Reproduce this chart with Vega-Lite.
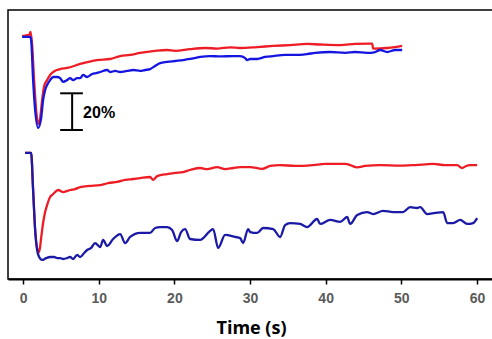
{
  "$schema": "https://vega.github.io/schema/vega-lite/v6.json",
  "width": 486,
  "height": 269,
  "autosize": {"type": "none"},
  "padding": {"left": 8, "top": 10, "right": 0, "bottom": 60},
  "background": "white",
  "config": {"view": {"stroke": "#000", "strokeWidth": 1.5}, "font": "Liberation Sans"},
  "datasets": {
    "red": [
      {"s": "top", "t": -0.13, "v": 132.4}, {"s": "top", "t": 0.79, "v": 133.0}, {"s": "top", "t": 0.99, "v": 134.6}, {"s": "top", "t": 1.19, "v": 127.5},
      {"s": "top", "t": 1.45, "v": 108.4}, {"s": "top", "t": 1.72, "v": 92.1}, {"s": "top", "t": 1.98, "v": 84.5}, {"s": "top", "t": 2.25, "v": 87.7},
      {"s": "top", "t": 2.51, "v": 97.5}, {"s": "top", "t": 2.78, "v": 105.2}, {"s": "top", "t": 3.17, "v": 108.4}, {"s": "top", "t": 3.57, "v": 111.2},
      {"s": "top", "t": 3.97, "v": 112.8}, {"s": "top", "t": 4.89, "v": 114.4}, {"s": "top", "t": 5.82, "v": 115.0}, {"s": "top", "t": 7.54, "v": 117.2},
      {"s": "top", "t": 9.79, "v": 119.3}, {"s": "top", "t": 11.5, "v": 119.9}, {"s": "top", "t": 12.83, "v": 121.5}, {"s": "top", "t": 14.15, "v": 122.1},
      {"s": "top", "t": 15.47, "v": 123.2}, {"s": "top", "t": 17.45, "v": 124.3}, {"s": "top", "t": 19.04, "v": 124.8}, {"s": "top", "t": 20.1, "v": 124.3},
      {"s": "top", "t": 22.08, "v": 125.3}, {"s": "top", "t": 24.07, "v": 125.9}, {"s": "top", "t": 25.65, "v": 125.6}, {"s": "top", "t": 27.37, "v": 126.2},
      {"s": "top", "t": 28.69, "v": 125.9}, {"s": "top", "t": 30.94, "v": 126.4}, {"s": "top", "t": 33.06, "v": 127.0}, {"s": "top", "t": 35.31, "v": 127.5},
      {"s": "top", "t": 37.55, "v": 128.1}, {"s": "top", "t": 39.27, "v": 127.8}, {"s": "top", "t": 41.92, "v": 127.5}, {"s": "top", "t": 43.9, "v": 128.1},
      {"s": "top", "t": 45.88, "v": 128.3}, {"s": "top", "t": 46.15, "v": 128.3}, {"s": "top", "t": 46.28, "v": 125.6}, {"s": "top", "t": 48.13, "v": 125.9},
      {"s": "top", "t": 49.19, "v": 126.4}, {"s": "top", "t": 50.12, "v": 127.0},
      {"s": "bottom", "t": 0.26, "v": 68.7}, {"s": "bottom", "t": 1.06, "v": 68.7}, {"s": "bottom", "t": 1.32, "v": 48.5}, {"s": "bottom", "t": 1.59, "v": 26.7},
      {"s": "bottom", "t": 1.85, "v": 16.9}, {"s": "bottom", "t": 2.12, "v": 14.7}, {"s": "bottom", "t": 2.38, "v": 22.3}, {"s": "bottom", "t": 2.64, "v": 30.5},
      {"s": "bottom", "t": 2.91, "v": 36.5}, {"s": "bottom", "t": 3.17, "v": 40.3}, {"s": "bottom", "t": 3.57, "v": 44.7}, {"s": "bottom", "t": 3.83, "v": 45.8},
      {"s": "bottom", "t": 4.23, "v": 47.4}, {"s": "bottom", "t": 4.63, "v": 48.5}, {"s": "bottom", "t": 5.29, "v": 47.4}, {"s": "bottom", "t": 5.82, "v": 48.0},
      {"s": "bottom", "t": 6.21, "v": 48.5}, {"s": "bottom", "t": 6.88, "v": 49.0}, {"s": "bottom", "t": 7.54, "v": 50.1}, {"s": "bottom", "t": 8.86, "v": 50.7},
      {"s": "bottom", "t": 10.18, "v": 51.2}, {"s": "bottom", "t": 11.24, "v": 52.3}, {"s": "bottom", "t": 12.43, "v": 52.9}, {"s": "bottom", "t": 13.49, "v": 54.0},
      {"s": "bottom", "t": 14.55, "v": 54.5}, {"s": "bottom", "t": 15.47, "v": 55.0}, {"s": "bottom", "t": 16.79, "v": 55.6}, {"s": "bottom", "t": 17.19, "v": 54.0},
      {"s": "bottom", "t": 17.72, "v": 56.1}, {"s": "bottom", "t": 19.04, "v": 57.2}, {"s": "bottom", "t": 20.1, "v": 57.8}, {"s": "bottom", "t": 21.16, "v": 58.3},
      {"s": "bottom", "t": 22.08, "v": 59.4}, {"s": "bottom", "t": 23.4, "v": 60.5}, {"s": "bottom", "t": 24.33, "v": 59.9}, {"s": "bottom", "t": 25.65, "v": 61.0},
      {"s": "bottom", "t": 26.71, "v": 59.9}, {"s": "bottom", "t": 27.77, "v": 60.5}, {"s": "bottom", "t": 28.69, "v": 61.0}, {"s": "bottom", "t": 30.02, "v": 61.0},
      {"s": "bottom", "t": 31.6, "v": 60.0}, {"s": "bottom", "t": 32.66, "v": 61.6}, {"s": "bottom", "t": 33.98, "v": 62.1}, {"s": "bottom", "t": 35.97, "v": 61.6},
      {"s": "bottom", "t": 38.35, "v": 62.1}, {"s": "bottom", "t": 39.93, "v": 62.7}, {"s": "bottom", "t": 42.58, "v": 62.7}, {"s": "bottom", "t": 43.24, "v": 62.1},
      {"s": "bottom", "t": 44.17, "v": 60.8}, {"s": "bottom", "t": 45.22, "v": 61.6}, {"s": "bottom", "t": 47.21, "v": 62.1}, {"s": "bottom", "t": 49.85, "v": 61.8},
      {"s": "bottom", "t": 51.83, "v": 62.1}, {"s": "bottom", "t": 54.21, "v": 62.7}, {"s": "bottom", "t": 55.8, "v": 62.1}, {"s": "bottom", "t": 57.39, "v": 62.1},
      {"s": "bottom", "t": 58.05, "v": 60.5}, {"s": "bottom", "t": 58.58, "v": 61.6}, {"s": "bottom", "t": 59.11, "v": 62.1}, {"s": "bottom", "t": 60.03, "v": 62.1}
    ],
    "blue": [
      {"s": "top", "t": -0.13, "v": 131.9}, {"s": "top", "t": 0.93, "v": 131.9}, {"s": "top", "t": 1.06, "v": 130.2}, {"s": "top", "t": 1.32, "v": 108.4},
      {"s": "top", "t": 1.59, "v": 92.1}, {"s": "top", "t": 1.98, "v": 82.3}, {"s": "top", "t": 2.38, "v": 87.7}, {"s": "top", "t": 2.64, "v": 97.5},
      {"s": "top", "t": 2.91, "v": 103.0}, {"s": "top", "t": 3.17, "v": 105.7}, {"s": "top", "t": 3.57, "v": 108.4}, {"s": "top", "t": 3.97, "v": 110.1},
      {"s": "top", "t": 4.5, "v": 110.1}, {"s": "top", "t": 4.89, "v": 109.5}, {"s": "top", "t": 5.29, "v": 107.4}, {"s": "top", "t": 5.82, "v": 108.4},
      {"s": "top", "t": 6.21, "v": 109.5}, {"s": "top", "t": 6.61, "v": 108.4}, {"s": "top", "t": 7.14, "v": 109.5}, {"s": "top", "t": 7.54, "v": 109.5},
      {"s": "top", "t": 7.93, "v": 111.2}, {"s": "top", "t": 8.46, "v": 110.1}, {"s": "top", "t": 9.12, "v": 111.7}, {"s": "top", "t": 9.79, "v": 112.3},
      {"s": "top", "t": 10.18, "v": 112.8}, {"s": "top", "t": 11.11, "v": 113.9}, {"s": "top", "t": 11.5, "v": 112.8}, {"s": "top", "t": 12.17, "v": 113.4},
      {"s": "top", "t": 12.83, "v": 112.8}, {"s": "top", "t": 13.75, "v": 113.4}, {"s": "top", "t": 14.55, "v": 113.9}, {"s": "top", "t": 15.47, "v": 113.4},
      {"s": "top", "t": 16.13, "v": 113.9}, {"s": "top", "t": 16.79, "v": 114.4}, {"s": "top", "t": 17.45, "v": 116.1}, {"s": "top", "t": 18.12, "v": 117.7},
      {"s": "top", "t": 19.04, "v": 118.3}, {"s": "top", "t": 20.1, "v": 118.8}, {"s": "top", "t": 21.16, "v": 119.3}, {"s": "top", "t": 22.08, "v": 119.9},
      {"s": "top", "t": 23.4, "v": 121.0}, {"s": "top", "t": 24.73, "v": 121.5}, {"s": "top", "t": 26.05, "v": 121.3}, {"s": "top", "t": 27.77, "v": 121.5},
      {"s": "top", "t": 28.69, "v": 121.5}, {"s": "top", "t": 29.36, "v": 120.4}, {"s": "top", "t": 29.62, "v": 119.3}, {"s": "top", "t": 30.02, "v": 119.9},
      {"s": "top", "t": 30.94, "v": 119.9}, {"s": "top", "t": 32.0, "v": 121.0}, {"s": "top", "t": 33.06, "v": 121.5}, {"s": "top", "t": 34.64, "v": 122.1},
      {"s": "top", "t": 35.97, "v": 122.1}, {"s": "top", "t": 37.55, "v": 122.6}, {"s": "top", "t": 38.61, "v": 123.2}, {"s": "top", "t": 40.6, "v": 123.7},
      {"s": "top", "t": 42.58, "v": 123.2}, {"s": "top", "t": 43.9, "v": 123.7}, {"s": "top", "t": 45.49, "v": 123.2}, {"s": "top", "t": 46.55, "v": 123.7},
      {"s": "top", "t": 47.21, "v": 124.8}, {"s": "top", "t": 48.13, "v": 123.7}, {"s": "top", "t": 49.19, "v": 124.8}, {"s": "top", "t": 50.12, "v": 124.8},
      {"s": "bottom", "t": 0.26, "v": 68.7}, {"s": "bottom", "t": 1.06, "v": 68.7}, {"s": "bottom", "t": 1.32, "v": 48.5}, {"s": "bottom", "t": 1.59, "v": 26.7},
      {"s": "bottom", "t": 1.85, "v": 15.8}, {"s": "bottom", "t": 2.12, "v": 12.0}, {"s": "bottom", "t": 2.51, "v": 10.4}, {"s": "bottom", "t": 3.04, "v": 11.4},
      {"s": "bottom", "t": 3.57, "v": 12.0}, {"s": "bottom", "t": 4.1, "v": 12.0}, {"s": "bottom", "t": 4.5, "v": 11.4}, {"s": "bottom", "t": 4.89, "v": 11.4},
      {"s": "bottom", "t": 5.29, "v": 10.9}, {"s": "bottom", "t": 5.82, "v": 11.4}, {"s": "bottom", "t": 6.21, "v": 12.0}, {"s": "bottom", "t": 6.61, "v": 10.9},
      {"s": "bottom", "t": 7.14, "v": 13.1}, {"s": "bottom", "t": 7.54, "v": 12.0}, {"s": "bottom", "t": 8.07, "v": 14.2}, {"s": "bottom", "t": 8.46, "v": 15.8},
      {"s": "bottom", "t": 8.99, "v": 16.9}, {"s": "bottom", "t": 9.52, "v": 19.6}, {"s": "bottom", "t": 10.18, "v": 17.4}, {"s": "bottom", "t": 10.58, "v": 21.3},
      {"s": "bottom", "t": 11.11, "v": 18.0}, {"s": "bottom", "t": 11.9, "v": 21.8}, {"s": "bottom", "t": 12.83, "v": 24.5}, {"s": "bottom", "t": 13.49, "v": 19.6},
      {"s": "bottom", "t": 14.15, "v": 22.9}, {"s": "bottom", "t": 15.47, "v": 25.1}, {"s": "bottom", "t": 16.79, "v": 25.1}, {"s": "bottom", "t": 17.45, "v": 27.8},
      {"s": "bottom", "t": 18.12, "v": 28.3}, {"s": "bottom", "t": 19.04, "v": 28.3}, {"s": "bottom", "t": 19.7, "v": 26.7}, {"s": "bottom", "t": 20.36, "v": 20.7},
      {"s": "bottom", "t": 20.89, "v": 25.6}, {"s": "bottom", "t": 21.42, "v": 27.2}, {"s": "bottom", "t": 22.08, "v": 21.8}, {"s": "bottom", "t": 23.4, "v": 21.3},
      {"s": "bottom", "t": 24.73, "v": 26.2}, {"s": "bottom", "t": 25.12, "v": 27.2}, {"s": "bottom", "t": 25.79, "v": 16.9}, {"s": "bottom", "t": 26.71, "v": 24.0},
      {"s": "bottom", "t": 28.03, "v": 22.9}, {"s": "bottom", "t": 28.69, "v": 22.3}, {"s": "bottom", "t": 29.09, "v": 19.6}, {"s": "bottom", "t": 29.75, "v": 27.2},
      {"s": "bottom", "t": 30.02, "v": 25.6}, {"s": "bottom", "t": 30.94, "v": 25.1}, {"s": "bottom", "t": 31.74, "v": 27.8}, {"s": "bottom", "t": 33.06, "v": 27.2},
      {"s": "bottom", "t": 33.98, "v": 22.9}, {"s": "bottom", "t": 34.64, "v": 29.4}, {"s": "bottom", "t": 35.31, "v": 30.5}, {"s": "bottom", "t": 36.63, "v": 30.0},
      {"s": "bottom", "t": 37.55, "v": 28.3}, {"s": "bottom", "t": 38.88, "v": 32.7}, {"s": "bottom", "t": 39.27, "v": 30.0}, {"s": "bottom", "t": 40.6, "v": 32.2},
      {"s": "bottom", "t": 41.92, "v": 31.1}, {"s": "bottom", "t": 42.84, "v": 33.8}, {"s": "bottom", "t": 43.24, "v": 30.0}, {"s": "bottom", "t": 44.17, "v": 34.9},
      {"s": "bottom", "t": 45.49, "v": 36.5}, {"s": "bottom", "t": 46.28, "v": 35.4}, {"s": "bottom", "t": 47.6, "v": 37.1}, {"s": "bottom", "t": 48.93, "v": 36.5},
      {"s": "bottom", "t": 50.25, "v": 36.5}, {"s": "bottom", "t": 51.17, "v": 39.2}, {"s": "bottom", "t": 52.1, "v": 38.7}, {"s": "bottom", "t": 52.5, "v": 39.2},
      {"s": "bottom", "t": 53.42, "v": 35.4}, {"s": "bottom", "t": 54.48, "v": 36.0}, {"s": "bottom", "t": 55.54, "v": 36.5}, {"s": "bottom", "t": 56.07, "v": 30.5},
      {"s": "bottom", "t": 56.86, "v": 30.5}, {"s": "bottom", "t": 57.79, "v": 32.2}, {"s": "bottom", "t": 58.71, "v": 30.0}, {"s": "bottom", "t": 59.5, "v": 30.5},
      {"s": "bottom", "t": 60.03, "v": 33.2}
    ],
    "bar": [
      {"t": 6.48, "t2": 6.48, "v": 81.2, "v2": 101.2},
      {"t": 4.9, "t2": 7.9, "v": 81.2, "v2": 81.2},
      {"t": 4.9, "t2": 7.9, "v": 101.2, "v2": 101.2}
    ],
    "label": [{"t": 7.93, "v": 90.5, "text": "20%"}]
  },
  "encoding": {
    "x": {
      "field": "t", "type": "quantitative",
      "scale": {"domain": [-2, 62.26], "nice": false, "zero": false},
      "axis": {
        "values": [0, 10, 20, 30, 40, 50, 60], "title": "Time (s)", "grid": false,
        "domainColor": "#000", "domainWidth": 2,
        "tickColor": "#000", "tickWidth": 1.5, "tickSize": 5,
        "labelFont": "Liberation Sans", "labelFontWeight": "bold", "labelFontSize": 14, "labelColor": "#5a5a5a", "labelPadding": 7,
        "titleFont": "Open Sans", "titleFontWeight": "bold", "titleFontSize": 18, "titleColor": "#000", "titlePadding": 14
      }
    },
    "y": {"field": "v", "type": "quantitative", "scale": {"domain": [0, 146.6], "nice": false, "zero": false}, "axis": null}
  },
  "layer": [
    {
      "data": {"name": "red"},
      "mark": {"type": "line", "color": "#ee1c24", "strokeWidth": 2.3, "interpolate": "monotone"},
      "encoding": {"detail": {"field": "s"}}
    },
    {
      "data": {"name": "blue"},
      "mark": {"type": "line", "strokeWidth": 2.3, "interpolate": "monotone"},
      "encoding": {
        "detail": {"field": "s"},
        "color": {"field": "s", "type": "nominal", "scale": {"domain": ["top", "bottom"], "range": ["#1515e0", "#1a1aa6"]}, "legend": null}
      }
    },
    {
      "data": {"name": "bar"},
      "mark": {"type": "rule", "color": "#000", "strokeWidth": 2},
      "encoding": {"x2": {"field": "t2"}, "y2": {"field": "v2"}}
    },
    {
      "data": {"name": "label"},
      "mark": {"type": "text", "align": "left", "baseline": "middle", "fontSize": 16, "fontWeight": "bold", "font": "Liberation Sans", "color": "#000"},
      "encoding": {"text": {"field": "text"}}
    }
  ]
}
